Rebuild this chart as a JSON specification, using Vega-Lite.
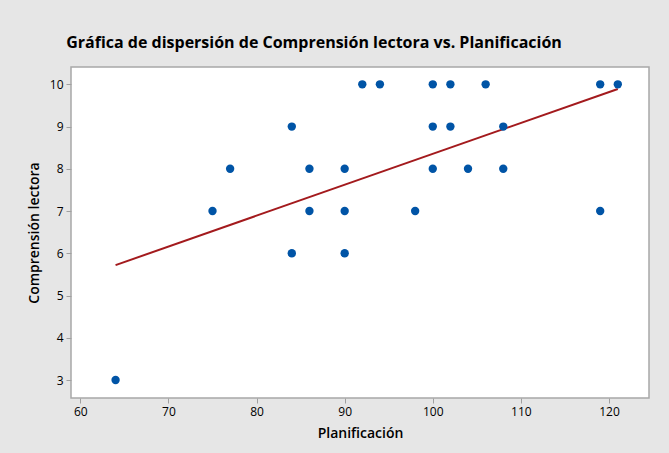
{
  "$schema": "https://vega.github.io/schema/vega-lite/v6.json",
  "width": 578,
  "height": 331,
  "autosize": {"type": "none"},
  "padding": {"left": 71, "top": 67, "right": 20, "bottom": 55},
  "background": "#e6e6e6",
  "title": {
    "text": "Gráfica de dispersión de Comprensión lectora vs. Planificación",
    "font": "Open Sans",
    "fontSize": 16,
    "fontWeight": "bold",
    "color": "#000000",
    "anchor": "middle",
    "dx": -46,
    "offset": 16
  },
  "config": {
    "view": {"stroke": "#a8a8a8", "strokeWidth": 1.5, "fill": "#ffffff"},
    "axis": {
      "grid": false,
      "domain": false,
      "tickColor": "#a0a0a0",
      "tickSize": 5,
      "labelFont": "Open Sans",
      "labelFontSize": 12,
      "labelColor": "#000000",
      "titleFont": "Open Sans",
      "titleFontSize": 14,
      "titleFontWeight": 600,
      "titleColor": "#000000"
    }
  },
  "datasets": {
    "pts": [
      {"Planificacion": 64, "Comprension": 3},
      {"Planificacion": 75, "Comprension": 7},
      {"Planificacion": 77, "Comprension": 8},
      {"Planificacion": 84, "Comprension": 9},
      {"Planificacion": 84, "Comprension": 6},
      {"Planificacion": 86, "Comprension": 8},
      {"Planificacion": 86, "Comprension": 7},
      {"Planificacion": 90, "Comprension": 8},
      {"Planificacion": 90, "Comprension": 7},
      {"Planificacion": 90, "Comprension": 6},
      {"Planificacion": 92, "Comprension": 10},
      {"Planificacion": 94, "Comprension": 10},
      {"Planificacion": 98, "Comprension": 7},
      {"Planificacion": 100, "Comprension": 10},
      {"Planificacion": 100, "Comprension": 9},
      {"Planificacion": 100, "Comprension": 8},
      {"Planificacion": 102, "Comprension": 10},
      {"Planificacion": 102, "Comprension": 9},
      {"Planificacion": 104, "Comprension": 8},
      {"Planificacion": 106, "Comprension": 10},
      {"Planificacion": 108, "Comprension": 9},
      {"Planificacion": 108, "Comprension": 8},
      {"Planificacion": 119, "Comprension": 10},
      {"Planificacion": 119, "Comprension": 7},
      {"Planificacion": 121, "Comprension": 10}
    ],
    "fit": [
      {"Planificacion": 64, "Comprension": 5.72},
      {"Planificacion": 121, "Comprension": 9.89}
    ]
  },
  "layer": [
    {
      "data": {"name": "fit"},
      "mark": {"type": "line", "color": "#a31a1d", "strokeWidth": 2},
      "encoding": {
        "x": {
          "field": "Planificacion",
          "type": "quantitative",
          "scale": {"domain": [58.94, 124.54], "nice": false, "zero": false},
          "axis": {"values": [60, 70, 80, 90, 100, 110, 120], "title": "Planificación", "titlePadding": 9, "labelPadding": 3}
        },
        "y": {
          "field": "Comprension",
          "type": "quantitative",
          "scale": {"domain": [2.574, 10.41], "nice": false, "zero": false},
          "axis": {"values": [3, 4, 5, 6, 7, 8, 9, 10], "title": "Comprensión lectora", "titlePadding": 8, "labelPadding": 3}
        }
      }
    },
    {
      "data": {"name": "pts"},
      "mark": {"type": "circle", "color": "#0054a6", "opacity": 1, "size": 70},
      "encoding": {
        "x": {"field": "Planificacion", "type": "quantitative"},
        "y": {"field": "Comprension", "type": "quantitative"}
      }
    }
  ]
}
